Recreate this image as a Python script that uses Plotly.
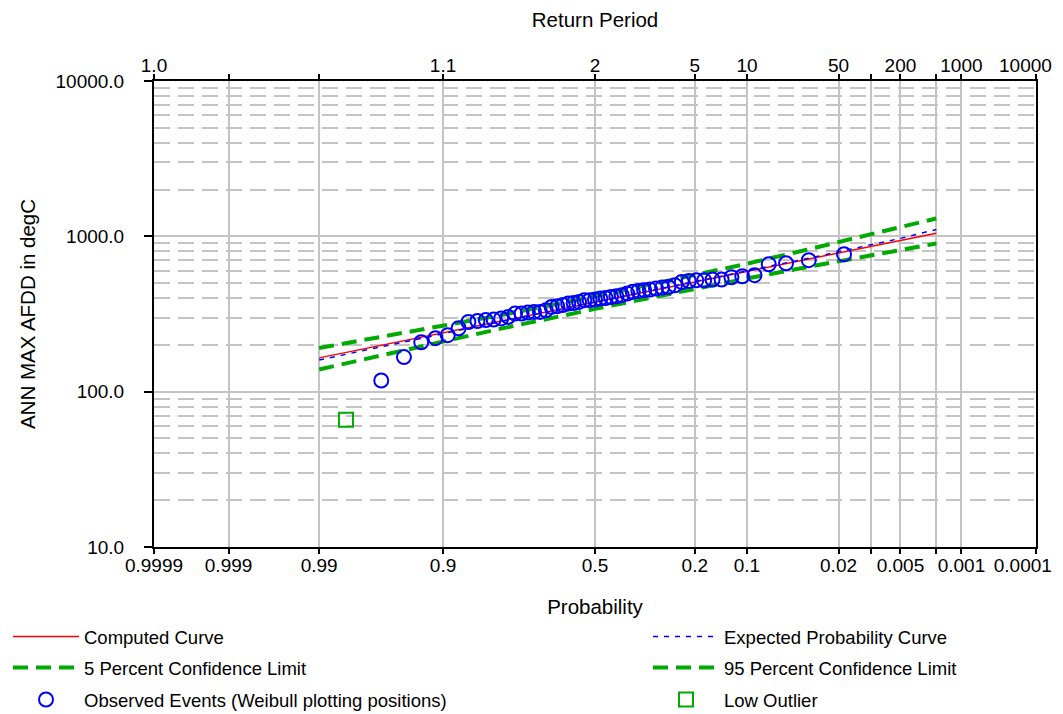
import plotly.graph_objects as go
from statistics import NormalDist

_nd = NormalDist()


def zpos(p_exceed):
    """Normal-probability axis position for an exceedance probability."""
    return _nd.inv_cdf(1.0 - p_exceed)


# ---------------- data ----------------
tick_probs = [0.9999, 0.999, 0.99, 0.9, 0.5, 0.2, 0.1, 0.02, 0.01, 0.005, 0.002, 0.001, 0.0001]
bottom_labels = ["0.9999", "0.999", "0.99", "0.9", "0.5", "0.2", "0.1", "0.02", "", "0.005", "", "0.001", "0.0001"]
top_labels = ["1.0", "", "", "1.1", "2", "5", "10", "50", "", "200", "", "1000", "10000"]

y_tick_vals = [10, 100, 1000, 10000]
y_tick_text = ["10.0", "100.0", "1000.0", "10000.0"]
y_minor_vals = [20, 30, 40, 50, 60, 70, 80, 90,
                200, 300, 400, 500, 600, 700, 800, 900,
                2000, 3000, 4000, 5000, 6000, 7000, 8000, 9000]

curve_probs = [0.99, 0.95, 0.9, 0.8, 0.5, 0.2, 0.1, 0.04, 0.02, 0.01, 0.005, 0.002]
computed_curve = [165, 210, 239, 279, 377, 508, 594, 702, 782, 861, 940, 1047]
expected_curve = [160, 207, 237, 278, 377, 509, 597, 710, 795, 880, 970, 1107]
conf_05 = [191, 236, 265, 306, 411, 559, 666, 808, 919, 1031, 1144, 1303]
conf_95 = [139, 182, 210, 250, 341, 461, 535, 626, 690, 756, 819, 899]

# observed annual maxima, ranked largest to smallest (Weibull plotting positions)
observed = [767, 702, 671, 661, 562, 553, 545, 527, 527, 521,
            521, 516, 508, 484, 472, 468, 461, 454, 450, 445,
            439, 428, 418, 411, 407, 401, 398, 392, 388, 388,
            378, 372, 369, 361, 355, 351, 334, 326, 326, 323,
            318, 318, 303, 296, 291, 289, 285, 281, 256, 231,
            221, 208, 167, 118]
low_outlier = [66]

# ---------------- positions ----------------
n_total = len(observed) + len(low_outlier)
obs_x = [zpos((i + 1) / (n_total + 1)) for i in range(len(observed))]
out_x = [zpos((len(observed) + i + 1) / (n_total + 1)) for i in range(len(low_outlier))]
curve_x = [zpos(p) for p in curve_probs]
tick_x = [zpos(p) for p in tick_probs]

# keep the last label of each x axis inside the window (nudge it left a little)
NBSP = "\u00a0"
bottom_text = bottom_labels[:-1] + [bottom_labels[-1] + NBSP * 5]
top_text = top_labels[:-1] + [top_labels[-1] + NBSP * 4]

RED = "#ff0000"
BLUE = "#0000ff"
GREEN = "#00aa00"
GRID = "#c4c4c4"
FONT = "Liberation Sans, Arial, sans-serif"
# the page body has an 8px margin, so the figure is sized to end at the window edge
W, H = 1055, 706

fig = go.Figure()

fig.add_trace(go.Scatter(x=curve_x, y=computed_curve, mode="lines", name="Computed Curve",
                         line=dict(color=RED, width=1.5), legend="legend"))
fig.add_trace(go.Scatter(x=curve_x, y=expected_curve, mode="lines", name="Expected Probability Curve",
                         line=dict(color=BLUE, width=1.5, dash="5px,6px"), legend="legend2"))
fig.add_trace(go.Scatter(x=curve_x, y=conf_05, mode="lines", name="5 Percent Confidence Limit",
                         line=dict(color=GREEN, width=4, dash="15px,8px"), legend="legend3"))
fig.add_trace(go.Scatter(x=curve_x, y=conf_95, mode="lines", name="95 Percent Confidence Limit",
                         line=dict(color=GREEN, width=4, dash="15px,8px"), legend="legend4"))
fig.add_trace(go.Scatter(x=obs_x, y=observed, mode="markers",
                         name="Observed Events (Weibull plotting positions)",
                         marker=dict(symbol="circle-open", size=14, color=BLUE, line=dict(width=2)),
                         legend="legend5"))
fig.add_trace(go.Scatter(x=out_x, y=low_outlier, mode="markers", name="Low Outlier",
                         marker=dict(symbol="square-open", size=14, color=GREEN, line=dict(width=2)),
                         legend="legend6"))
# helper trace so the top (return period) axis is drawn
fig.add_trace(go.Scatter(x=[tick_x[0]], y=[y_tick_vals[0]], xaxis="x2", mode="markers",
                         marker=dict(opacity=0), showlegend=False, hoverinfo="skip"))


def legend_at(x_px, y_px):
    return dict(orientation="h", xref="container", x=x_px / W, xanchor="left",
                yref="container", y=1 - y_px / H, yanchor="middle",
                itemwidth=66, font=dict(family=FONT, size=18.5, color="black"),
                bgcolor="rgba(0,0,0,0)")


fig.update_layout(
    width=W, height=H,
    margin=dict(l=146, r=27, t=73, b=167, autoexpand=False),
    plot_bgcolor="white", paper_bgcolor="white",
    font=dict(family=FONT, size=18, color="black"),
    showlegend=True,
    legend=legend_at(0, 629),
    legend2=legend_at(640, 629),
    legend3=legend_at(0, 660),
    legend4=legend_at(640, 660),
    legend5=legend_at(0, 692),
    legend6=legend_at(640, 692),
    xaxis=dict(
        range=[tick_x[0], tick_x[-1]],
        tickmode="array", tickvals=tick_x, ticktext=bottom_text,
        ticks="outside", ticklen=5, tickwidth=2, tickcolor="black",
        tickfont=dict(size=19), tickangle=0, automargin=False, ticklabelstandoff=-5,
        ticklabeloverflow="allow",
        showline=True, linecolor="black", linewidth=2, mirror=False,
        showgrid=True, gridcolor=GRID, gridwidth=2, zeroline=False,
        title=dict(text="Probability", standoff=34, font=dict(size=20.5)),
    ),
    xaxis2=dict(
        overlaying="x", side="top", anchor="y",
        range=[tick_x[0], tick_x[-1]],
        tickmode="array", tickvals=tick_x, ticktext=top_text,
        ticks="outside", ticklen=5, tickwidth=2, tickcolor="black",
        tickfont=dict(size=19), tickangle=0, automargin=False, ticklabelstandoff=-6,
        ticklabeloverflow="allow",
        showline=True, linecolor="black", linewidth=2,
        showgrid=False, zeroline=False,
        title=dict(text="Return Period", standoff=27, font=dict(size=20.5)),
    ),
    yaxis=dict(
        type="log", range=[1, 4],
        tickmode="array", tickvals=y_tick_vals, ticktext=y_tick_text,
        ticks="outside", ticklen=8, tickwidth=2, tickcolor="black",
        tickfont=dict(size=19), ticklabelstandoff=16, automargin=False,
        showline=True, linecolor="black", linewidth=2, mirror=True,
        showgrid=True, gridcolor=GRID, gridwidth=2, zeroline=False,
        minor=dict(tickmode="array", tickvals=y_minor_vals, ticks="",
                   showgrid=True, gridcolor=GRID, gridwidth=2, griddash="16px,8px"),
        title=dict(text="ANN MAX AFDD in degC", standoff=14, font=dict(size=20.5)),
    ),
)

fig.write_html("out.html")
